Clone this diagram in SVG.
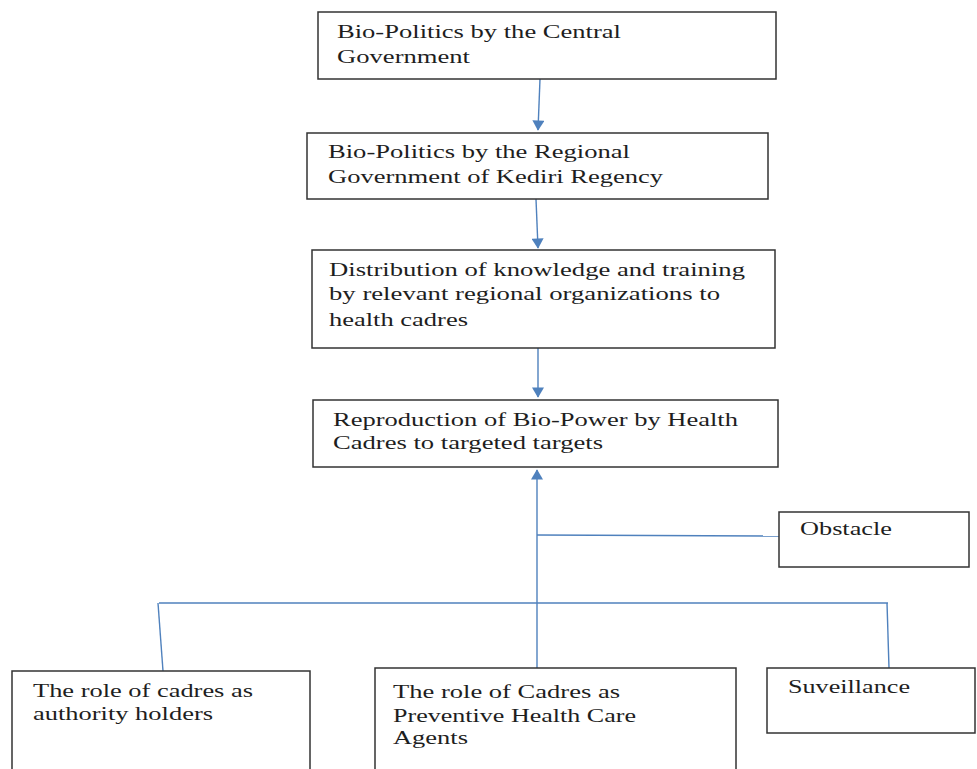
<svg xmlns="http://www.w3.org/2000/svg" width="977" height="769" viewBox="0 0 977 769">
<style>
.box{fill:#fff;stroke:#333;stroke-width:1.5}
.t{font-family:"Liberation Serif","Times New Roman",serif;font-size:18.5px;fill:#1e1e1e}
.c{fill:none;stroke:#4f81bd;stroke-width:1.4}
</style>
<defs>
<marker id="ah" markerUnits="userSpaceOnUse" markerWidth="16" markerHeight="12" refX="11" refY="7" orient="auto" viewBox="0 0 12 14">
<path d="M0,0 L12,7 L0,14 Z" fill="#4f81bd"/>
</marker>
</defs>
<rect width="977" height="769" fill="#fff"/>
<g id="connectors">
<line class="c" x1="540" y1="79" x2="538" y2="130" marker-end="url(#ah)"/>
<line class="c" x1="536" y1="199" x2="538" y2="248" marker-end="url(#ah)"/>
<line class="c" x1="538" y1="348" x2="538" y2="397" marker-end="url(#ah)"/>
<line class="c" x1="537" y1="668" x2="537" y2="470" marker-end="url(#ah)"/>
<line class="c" x1="537" y1="535" x2="779" y2="536"/>
<line class="c" x1="159" y1="603" x2="888" y2="603"/>
<line class="c" x1="158" y1="603" x2="163" y2="671"/>
<line class="c" x1="887" y1="603" x2="889" y2="668"/>
</g>
<g id="n1">
<rect class="box" x="318" y="12" width="458" height="67"/>
<text class="t" x="337" y="38" textLength="284" lengthAdjust="spacingAndGlyphs">Bio-Politics by the Central</text>
<text class="t" x="337" y="63" textLength="133" lengthAdjust="spacingAndGlyphs">Government</text>
</g>
<g id="n2">
<rect class="box" x="307" y="133" width="461" height="66"/>
<text class="t" x="328" y="158" textLength="302" lengthAdjust="spacingAndGlyphs">Bio-Politics by the Regional</text>
<text class="t" x="328" y="183" textLength="335" lengthAdjust="spacingAndGlyphs">Government of Kediri Regency</text>
</g>
<g id="n3">
<rect class="box" x="312" y="250" width="463" height="98"/>
<text class="t" x="329" y="276" textLength="416" lengthAdjust="spacingAndGlyphs">Distribution of knowledge and training</text>
<text class="t" x="329" y="300" textLength="391" lengthAdjust="spacingAndGlyphs">by relevant regional organizations to</text>
<text class="t" x="329" y="326" textLength="139" lengthAdjust="spacingAndGlyphs">health cadres</text>
</g>
<g id="n4">
<rect class="box" x="313" y="400" width="465" height="67"/>
<text class="t" x="333" y="426" textLength="405" lengthAdjust="spacingAndGlyphs">Reproduction of Bio-Power by Health</text>
<text class="t" x="333" y="449" textLength="270" lengthAdjust="spacingAndGlyphs">Cadres to targeted targets</text>
</g>
<g id="n5">
<rect class="box" x="779" y="512" width="190" height="55"/>
<text class="t" x="800" y="535" textLength="92" lengthAdjust="spacingAndGlyphs">Obstacle</text>
</g>
<g id="n6">
<rect class="box" x="12" y="671" width="298" height="110"/>
<text class="t" x="33" y="697" textLength="220" lengthAdjust="spacingAndGlyphs">The role of cadres as</text>
<text class="t" x="33" y="720" textLength="180" lengthAdjust="spacingAndGlyphs">authority holders</text>
</g>
<g id="n7">
<rect class="box" x="375" y="668" width="361" height="113"/>
<text class="t" x="393" y="698" textLength="227" lengthAdjust="spacingAndGlyphs">The role of Cadres as</text>
<text class="t" x="393" y="722" textLength="243" lengthAdjust="spacingAndGlyphs">Preventive Health Care</text>
<text class="t" x="393" y="744" textLength="75" lengthAdjust="spacingAndGlyphs">Agents</text>
</g>
<g id="n8">
<rect class="box" x="767" y="668" width="208" height="65"/>
<text class="t" x="788" y="693" textLength="122" lengthAdjust="spacingAndGlyphs">Suveillance</text>
</g>
</svg>
